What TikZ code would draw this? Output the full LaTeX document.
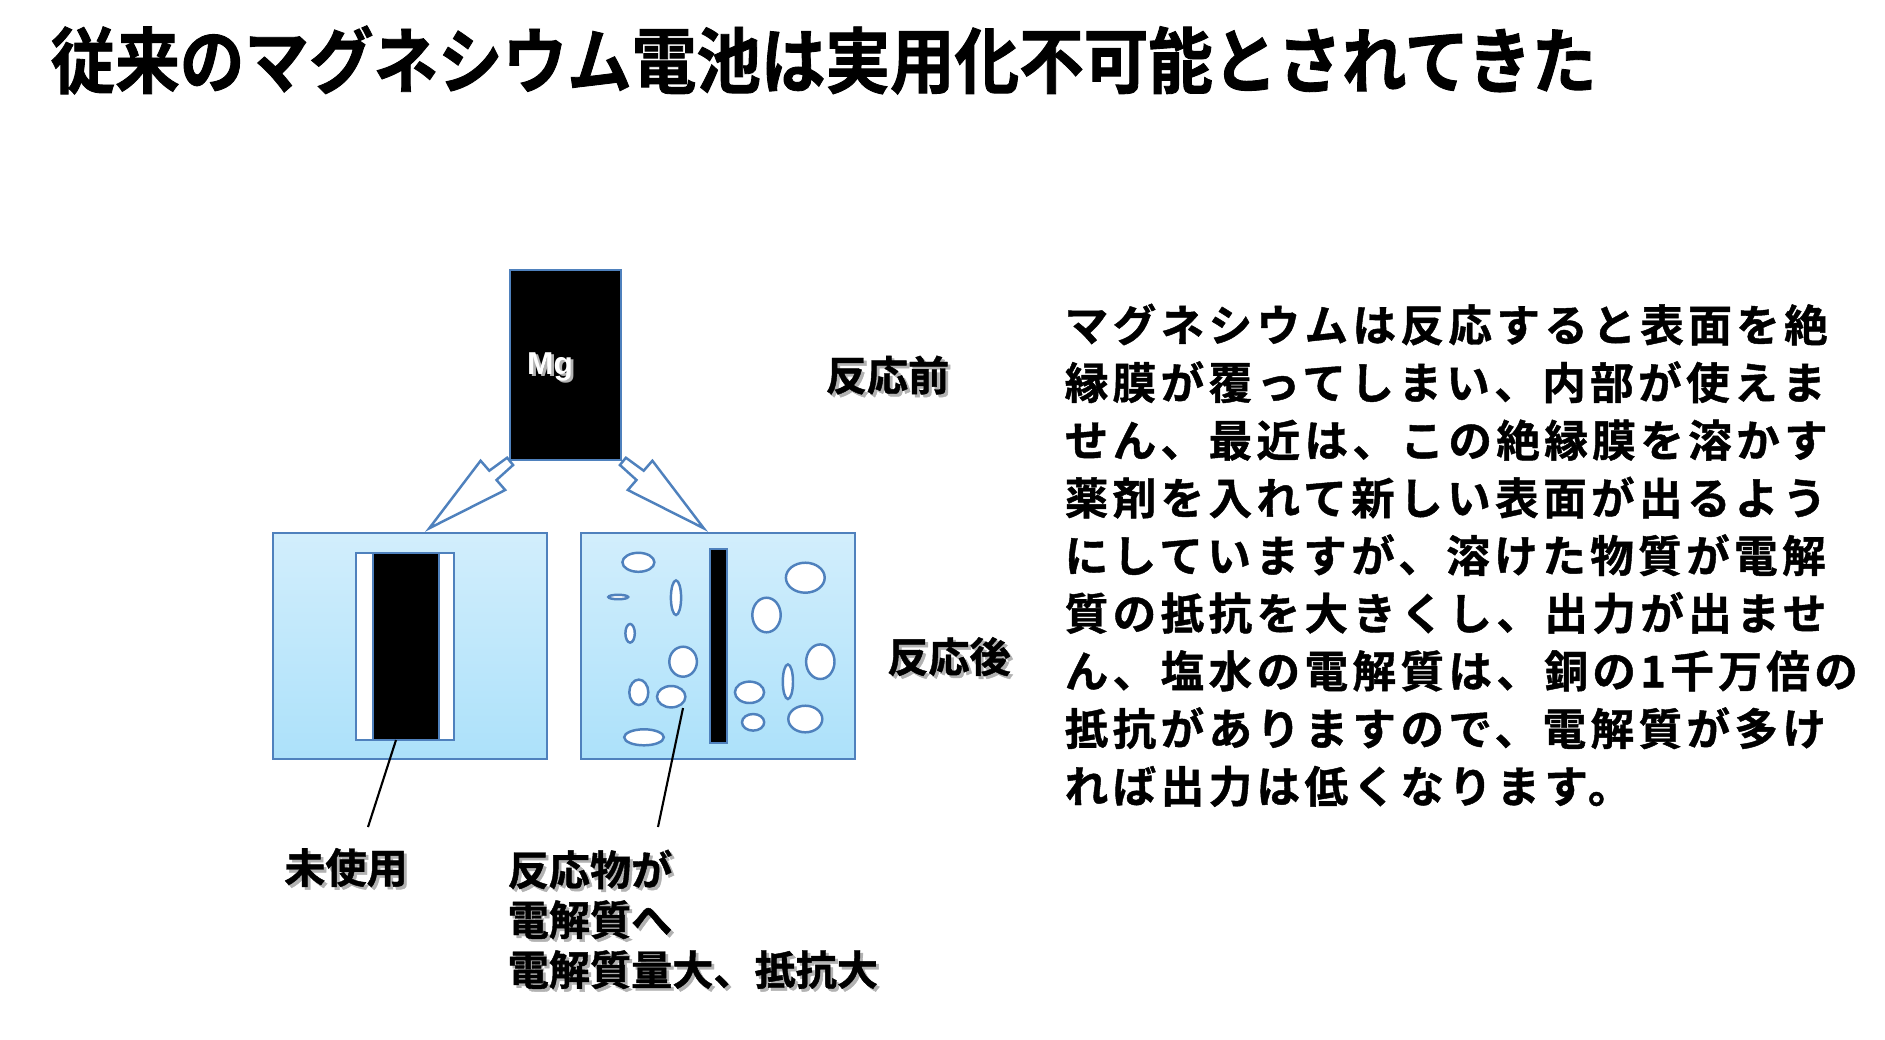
\documentclass[tikz,border=0pt]{standalone}
\usepackage{fontspec}
\setsansfont{Liberation Sans}
\newfontfamily\jpfont{Noto Sans CJK JP}[UprightFont=* Bold,FakeBold=1]
\newfontfamily\titlefont{Noto Sans CJK JP}[UprightFont=* Bold,FakeStretch=0.9,FakeBold=1.2]
\newfontfamily\bodyfont{Noto Sans CJK JP}[UprightFont=* Bold,LetterSpace=10,FakeBold=1]
\definecolor{mgblue}{RGB}{79,129,189}
\definecolor{waterTop}{RGB}{210,238,252}
\definecolor{waterBot}{RGB}{172,225,250}
\newcommand\shadowed[1]{\leavevmode\rlap{\kern0.8pt\raisebox{-0.8pt}{\textcolor{black!30}{#1}}}#1}
\begin{document}
\begin{tikzpicture}[x=0.01cm,y=-0.01cm,
  outline/.style={draw=mgblue,line width=0.7pt},
  water/.style={outline,top color=waterTop,bottom color=waterBot},
  metal/.style={outline,fill=black},
  blob/.style={outline,fill=white},
  blockarrow/.style={outline,fill=white,line join=miter},
  jplabel/.style={inner sep=0pt,font=\jpfont\fontsize{11.7pt}{14.2pt}\selectfont}]
\useasboundingbox (0,0) rectangle (1885,1039);
% title
\node[anchor=west,inner sep=0pt,font=\titlefont\fontsize{20.4pt}{24pt}\selectfont] (title) at (50,60) {従来のマグネシウム電池は実用化不可能とされてきた};
% before the reaction
\draw[metal] (510,270) rectangle (621,460);
\node[font=\sffamily\bfseries\fontsize{9pt}{10pt}\selectfont,text=white] (mg) at (550,368) {\shadowed{Mg}};
\draw[blockarrow] (480.6,460.7) -- (489.3,470.7) -- (507.1,457.7) -- (513.1,465) -- (496.5,480) -- (505.2,490) -- (429.2,528.3) -- cycle;
\draw[blockarrow] (652.4,460.7) -- (643.7,470.7) -- (625.9,457.7) -- (619.9,465) -- (636.5,480) -- (627.8,490) -- (703.8,528.3) -- cycle;
% after: unused cell
\draw[water] (273,533) rectangle (547,759);
\draw[outline,fill=white] (356,553) rectangle (454,740);
\draw[metal] (373,553) rectangle (439,740);
% after: cell with reaction products
\draw[water] (581,533) rectangle (855,759);
\draw[metal] (710,549) rectangle (727,743);
\foreach \cx/\cy/\rx/\ry in {638.4/562.3/16/9.5, 618.2/597/9.9/2.2, 676/597.7/5.1/17.3,
  630.1/633.3/4.7/9.3, 683.1/661.7/13.8/15, 638.8/692.3/9.5/12.7, 671.2/696.7/14.2/10.7,
  644/737.3/19.8/8, 805.3/577.7/19.4/15, 766.5/615/14.2/17.3, 820.3/661.7/14.2/17.3,
  787.9/681.7/5.1/17.3, 749.5/692.3/14.6/10.7, 753.1/722.3/11.1/8.3, 805.3/719/17/13.3}
  \draw[blob] (\cx,\cy) ellipse ({\rx} and {\ry});
% pointers
\coordinate (usedTip) at (396,740);
\coordinate (usedEnd) at (368,827);
\coordinate (spentTip) at (683,708);
\coordinate (spentEnd) at (658,827);
\draw[line width=0.6pt] (usedTip) -- (usedEnd);
\draw[line width=0.6pt] (spentTip) -- (spentEnd);
% labels
\node[jplabel] (before) at (887.5,376.5) {\shadowed{反応前}};
\node[jplabel] (after) at (949,658) {\shadowed{反応後}};
\node[jplabel] (unused) at (346,869) {\shadowed{未使用}};
\node[jplabel,anchor=north west,align=left] (spent) at (507,849)
  {\shadowed{反応物が}\\\shadowed{電解質へ}\\\shadowed{電解質量大、抵抗大}};
% explanation
\node[anchor=north west,inner sep=0pt,align=left,font=\bodyfont\fontsize{12.4pt}{16.4pt}\selectfont] (note) at (1064,303)
  {マグネシウムは反応すると表面を絶\\縁膜が覆ってしまい、内部が使えま\\せん、最近は、この絶縁膜を溶かす\\
   薬剤を入れて新しい表面が出るよう\\にしていますが、溶けた物質が電解\\質の抵抗を大きくし、出力が出ませ\\
   ん、塩水の電解質は、銅の1千万倍の\\抵抗がありますので、電解質が多け\\れば出力は低くなります。};
\end{tikzpicture}
\end{document}
